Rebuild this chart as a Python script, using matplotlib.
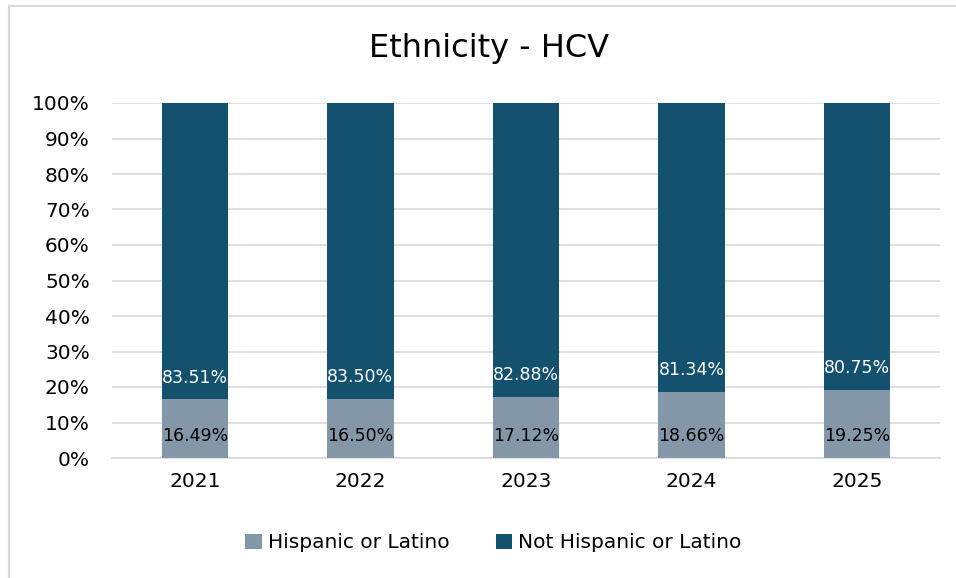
import matplotlib.pyplot as plt
import numpy as np
from matplotlib.lines import Line2D

years = ["2021", "2022", "2023", "2024", "2025"]
hispanic = [16.49, 16.50, 17.12, 18.66, 19.25]
not_hispanic = [83.51, 83.50, 82.88, 81.34, 80.75]

c_hisp = "#8497a9"
c_not = "#14516f"

plt.rcParams["font.family"] = ["DejaVu Sans"]

fig = plt.figure(figsize=(9.56, 5.78), dpi=100)
ax = fig.add_axes([112 / 956, 1 - 458 / 578, 828 / 956, 355 / 578])

# chart frame, only top and left edges show in the crop
fx, fy = 8.5 / 956, 1 - 5.5 / 578
fig.lines.append(Line2D([fx, 1], [fy, fy], transform=fig.transFigure, color="#d9d9d9", lw=1.5))
fig.lines.append(Line2D([fx, fx], [0, fy], transform=fig.transFigure, color="#d9d9d9", lw=1.5))

x = np.arange(len(years))
w = 0.4
ax.bar(x, hispanic, w, color=c_hisp, label="Hispanic or Latino", zorder=3)
ax.bar(x, not_hispanic, w, bottom=hispanic, color=c_not,
       label="Not Hispanic or Latino", zorder=3)

for i in range(len(years)):
    ax.annotate(f"{hispanic[i]:.2f}%", (x[i], 0), xytext=(0, 15.8), textcoords="offset points",
                ha="center", va="center", fontsize=12.5, color="black", zorder=4)
    ax.annotate(f"{not_hispanic[i]:.2f}%", (x[i], hispanic[i]), xytext=(0, 15.8),
                textcoords="offset points", ha="center", va="center", fontsize=12.5,
                color="white", zorder=4)

ax.set_xlim(-0.5, len(years) - 0.5)
ax.set_ylim(0, 100)
ax.set_yticks(np.arange(0, 101, 10))
ax.set_yticklabels([f"{v}%" for v in range(0, 101, 10)])
ax.set_xticks(x)
ax.set_xticklabels(years)
ax.tick_params(axis="both", length=0, labelsize=14.5, colors="black")
ax.tick_params(axis="y", pad=16)
ax.tick_params(axis="x", pad=10)
ax.yaxis.grid(True, color="#d9d9d9", linewidth=1.2, zorder=0)
for s in ["top", "right", "left"]:
    ax.spines[s].set_visible(False)
ax.spines["bottom"].set_color("#d9d9d9")
ax.spines["bottom"].set_linewidth(1.2)

fig.text(0.512, 1 - 48 / 578, "Ethnicity - HCV", ha="center", va="center", fontsize=23)

fig.legend(loc="center", bbox_to_anchor=(0.516, 1 - 543 / 578), ncol=2, frameon=False,
           fontsize=14.5, handlelength=0.8, handleheight=0.8, handletextpad=0.3,
           columnspacing=2.3)

fig.savefig("out.png", dpi=100)
